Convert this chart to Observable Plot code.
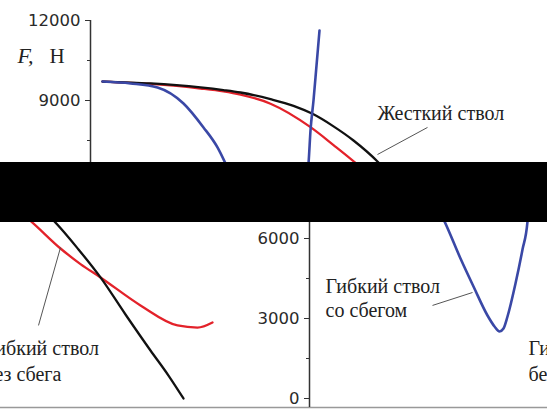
<!DOCTYPE html>
<html>
<head>
<meta charset="utf-8">
<script src="https://cdn.jsdelivr.net/npm/d3@7"></script>
<script src="https://cdn.jsdelivr.net/npm/@observablehq/plot@0.6"></script>
<style>
  html, body { margin: 0; padding: 0; background: #fff; }
  #frame { position: relative; width: 547px; height: 409px; overflow: hidden; background: #fff; }
  .strip { position: absolute; left: 0; width: 547px; overflow: hidden; }
  .strip > svg { position: absolute; }
  #bar { position: absolute; left: 0; top: 162px; width: 547px; height: 60px; background: #000; }
</style>
</head>
<body>
<div id="frame">
  <div class="strip" id="stripTop" style="top:0;height:162px"></div>
  <div id="bar"></div>
  <div class="strip" id="stripBottom" style="top:222px;height:187px"></div>
</div>
<script>
// Curve "Жесткий ствол" (rigid barrel)
const rigidX = [1.2, 6.0, 11.0, 13.3, 15.0, 18.0, 20.3, 22.2, 24.3, 26.3, 28.8, 31.3, 33.5, 36.0, 38.5, 40.3, 41.8];
const rigidF = [9710, 9640, 9490, 9390, 9300, 9050, 8800, 8500, 8030, 7500, 6675, 5590, 4540, 3150, 1800, 860, 0];
// Curve "Гибкий ствол без сбега" (flexible, no taper)
const flexX = [1.2, 6.0, 11.0, 13.3, 15.0, 18.0, 22.0, 24.3, 26.5, 29.5, 31.5, 33.5, 37.5, 41.2, 43.2, 44.7];
const flexF = [9710, 9620, 9450, 9340, 9220, 8880, 8000, 7330, 6660, 5625, 5040, 4540, 3490, 2740, 2660, 2850];
// Curve "Гибкий ствол со сбегом" (flexible, tapered)
const taperX = [1.2, 4.0, 6.7, 9.3, 11.3, 12.7, 13.5, 15.1, 16.4, 17.8, 18.5, 19.0, 19.4, 19.8, 20.6, 21.3, 21.8, 22.0, 22.3, 22.6, 22.9];
const taperF = [9710, 9640, 9490, 8890, 7990, 7240, 6640, 5250, 4200, 3112, 2700, 2512, 2625, 3075, 4312, 5587, 6640, 7875, 9000, 10310, 11625];

const majorTicks = [0, 3000, 6000, 9000, 12000];
const minorTicks = [1500, 4500, 7500, 10500];

const labelText = ["Жесткий ствол", "Гибкий ствол\nсо сбегом", "Гибкий ствол\nбез сбега"];
const labelX = [28.7, 1.6, 21.9];
const labelY = [8275, 3050, 640];
const labelLH = [1.2, 1.22, 1.32];

const leaderX1 = [33.7, 12.3, 27.3];
const leaderY1 = [7990, 3490, 2740];
const leaderX2 = [28.7, 16.3, 29.5];
const leaderY2 = [6975, 3975, 5660];

const toRows = (xs, ys) => xs.map((x, i) => ({x, y: ys[i]}));
const rigid = toRows(rigidX, rigidF);
const flex = toRows(flexX, flexF);
const taper = toRows(taperX, taperF);
const labels = labelText.map((t, i) => ({t, x: labelX[i], y: labelY[i], lh: labelLH[i]}));
const leaders = leaderX1.map((x1, i) => ({x1, y1: leaderY1[i], x2: leaderX2[i], y2: leaderY2[i]}));

const serif = "'Liberation Serif', 'Times New Roman', serif";

function makeChart() {
  return Plot.plot({
    width: 544,
    height: 351,
    marginLeft: 90,
    marginRight: 0,
    marginTop: 20,
    marginBottom: 2,
    style: {background: "transparent", fontFamily: "DejaVu Sans", fontSize: "16px", color: "#333", overflow: "visible"},
    x: {domain: [0, 45.4], axis: null},
    y: {domain: [-337.5, 12000]},
    marks: [
      Plot.ruleY([-337.5], {x1: -9, x2: 45.4, stroke: "#999", strokeWidth: 1.5}),
      Plot.ruleX([0], {y1: -337.5, y2: 12000, stroke: "#333", strokeWidth: 1.5}),
      Plot.axisY(majorTicks, {tickSize: 5, tickPadding: 5, label: null, tickFormat: d => String(d), stroke: "#333", fill: "#2a2a2a", fontSize: 16.5, fontFamily: "DejaVu Sans"}),
      Plot.axisY(minorTicks, {tickSize: 3, tickFormat: () => "", label: null, stroke: "#333"}),
      Plot.line(flex, {x: "x", y: "y", stroke: "#e3222a", strokeWidth: 2.3, curve: "monotone-x"}),
      Plot.line(rigid, {x: "x", y: "y", stroke: "#111", strokeWidth: 2.3, curve: "monotone-x"}),
      Plot.line(taper, {x: "x", y: "y", stroke: "#3a48a6", strokeWidth: 2.6, curve: "monotone-x"}),
      Plot.link(leaders, {x1: "x1", y1: "y1", x2: "x2", y2: "y2", stroke: "#555", strokeWidth: 1}),
      Plot.text([labels[0]], {x: "x", y: "y", text: "t", textAnchor: "start", lineAnchor: "bottom", lineHeight: labels[0].lh, fontSize: 20, fontFamily: serif, fill: "#222"}),
      Plot.text([labels[1]], {x: "x", y: "y", text: "t", textAnchor: "start", lineAnchor: "bottom", lineHeight: labels[1].lh, fontSize: 20, fontFamily: serif, fill: "#222"}),
      Plot.text([labels[2]], {x: "x", y: "y", text: "t", textAnchor: "start", lineAnchor: "bottom", lineHeight: labels[2].lh, fontSize: 20, fontFamily: serif, fill: "#222"}),
      Plot.text(["F,"], {x: -7.3, y: 10390, text: d => d, textAnchor: "start", lineAnchor: "bottom", fontSize: 22, fontFamily: serif, fontStyle: "italic", fill: "#222"}),
      Plot.text(["Н"], {x: -4.1, y: 10390, text: d => d, textAnchor: "start", lineAnchor: "bottom", fontSize: 21, fontFamily: serif, fill: "#222"})
    ]
  });
}

function place(strip, dx, dy) {
  const svg = makeChart();
  svg.style.left = dx + "px";
  svg.style.top = dy + "px";
  strip.appendChild(svg);
  return svg;
}

// drop texts of a copy that lie completely outside the visible part of its strip
function pruneHidden(strip) {
  const r = strip.getBoundingClientRect();
  strip.querySelectorAll("text").forEach(el => {
    const b = el.getBoundingClientRect();
    const hidden = b.right <= r.left || b.left >= r.right || b.bottom <= r.top || b.top >= r.bottom;
    if (hidden) el.remove();
  });
}

const stripTop = document.getElementById("stripTop");
place(stripTop, 0, 0);

const stripBottom = document.getElementById("stripBottom");
place(stripBottom, 219, -164);
place(stripBottom, -325, -164);

pruneHidden(stripTop);
pruneHidden(stripBottom);
</script>
</body>
</html>
